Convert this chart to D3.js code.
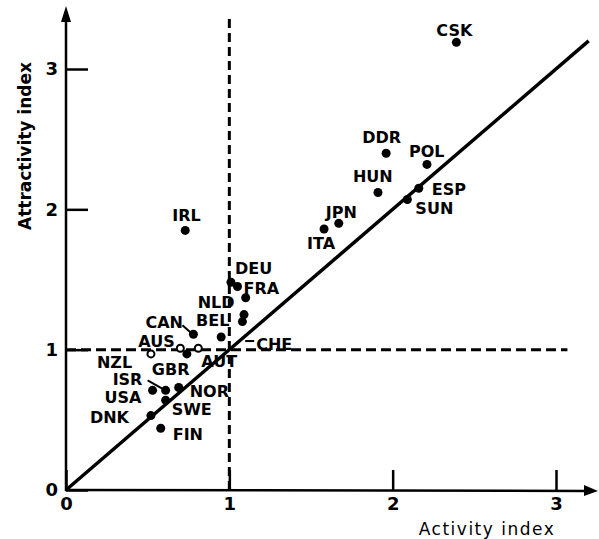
<!DOCTYPE html>
<html>
<head>
    <meta charset="utf-8">
    <title>Activity vs attractivity</title>
    <script src="https://cdn.jsdelivr.net/npm/d3@7"></script>
    <style>
        body { margin: 0; background: #fff; }
        text { font-family: "DejaVu Sans", sans-serif; fill: #000; }
    </style>
</head>
<body>
<script>
        // values
        var countries = ["CSK", "DDR", "POL", "HUN", "ESP", "SUN", "JPN", "ITA", "IRL",
            "DEU", "FRA", "NLD", "BEL", "", "CHE", "CAN", "AUS", "AUT", "GBR", "NZL",
            "ISR", "USA", "NOR", "SWE", "DNK", "FIN"];
        var activity = [2.39, 1.96, 2.21, 1.91, 2.16, 2.09, 1.67, 1.58, 0.73,
            1.01, 1.05, 1.10, 1.09, 1.08, 0.95, 0.78, 0.70, 0.81, 0.74, 0.52,
            0.61, 0.53, 0.69, 0.61, 0.52, 0.58];
        var attractivity = [3.19, 2.40, 2.32, 2.12, 2.15, 2.07, 1.90, 1.86, 1.85,
            1.48, 1.45, 1.37, 1.25, 1.20, 1.09, 1.11, 1.01, 1.01, 0.97, 0.97,
            0.71, 0.71, 0.73, 0.64, 0.53, 0.44];
        var openMarkers = ["AUS", "AUT", "NZL"];
        var xTicks = [0, 1, 2, 3];
        var yTicks = [0, 1, 2, 3];
        var threshold = 1;
        var diagonalEnd = 3.2;

        // label placement relative to each dot (dx, dy), plus leader lines
        var labelPos = {
            CSK: [-20, -6], DDR: [-24, -10], POL: [-18, -7], HUN: [-25, -10],
            ESP: [13, 7], SUN: [8, 14], JPN: [-13, -5], ITA: [-17, 20], IRL: [-13, -9],
            DEU: [4, -8], FRA: [6, 7], NLD: [-48, 10], BEL: [-48, 11], CHE: [35, 13],
            CAN: [-48, -6], AUS: [-42, -1], AUT: [3, 19], GBR: [-35, 21], NZL: [-54, 14],
            ISR: [-53, -5], USA: [-48, 13], NOR: [11, 9], SWE: [6, 15], DNK: [-61, 7],
            FIN: [12, 12]
        };
        var leaders = {
            CHE: [[24, 4], [33, 4]],
            CAN: [[-11, -9], [-3, -2]],
            ISR: [[-18, -10], [-2, -1]]
        };

        var width = 599, height = 539;
        var x = d3.scaleLinear().domain([0, 3]).range([66, 556]);
        var y = d3.scaleLinear().domain([0, 3]).range([490, 69]);

        var svg = d3.select("body").append("svg")
            .attr("width", width)
            .attr("height", height);

        // reference lines
        svg.append("line")
            .attr("x1", x(threshold)).attr("x2", x(threshold))
            .attr("y1", y(0)).attr("y2", y(3.36))
            .attr("stroke", "#000").attr("stroke-width", 3)
            .attr("stroke-dasharray", "9,5");
        svg.append("line")
            .attr("x1", x(0)).attr("x2", x(3.07))
            .attr("y1", y(threshold)).attr("y2", y(threshold))
            .attr("stroke", "#000").attr("stroke-width", 3)
            .attr("stroke-dasharray", "10,5");

        svg.append("line")
            .attr("x1", x(0)).attr("y1", y(0))
            .attr("x2", x(diagonalEnd)).attr("y2", y(diagonalEnd))
            .attr("stroke", "#000").attr("stroke-width", 3.5);

        // axes
        var yAxis = svg.append("g")
            .attr("transform", "translate(" + x(0) + ",0)")
            .call(d3.axisLeft(y).tickValues(yTicks).tickSize(-22).tickPadding(8)
                .tickFormat(d3.format("d")));
        var xAxis = svg.append("g")
            .attr("transform", "translate(0," + y(0) + ")")
            .call(d3.axisBottom(x).tickValues(xTicks).tickSize(-20).tickPadding(7)
                .tickFormat(d3.format("d")));
        [xAxis, yAxis].forEach(function (g) {
            g.select(".domain").remove();
            g.selectAll(".tick line").attr("stroke", "#000").attr("stroke-width", 2.5);
            g.selectAll(".tick text")
                .style("font-size", "18px").style("font-weight", "bold");
        });

        svg.append("line")
            .attr("x1", x(0)).attr("y1", y(0) + 1)
            .attr("x2", x(0)).attr("y2", 18)
            .attr("stroke", "#000").attr("stroke-width", 2.5);
        svg.append("path")
            .attr("d", "M" + x(0) + ",6 L" + (x(0) - 5) + ",22 L" + (x(0) + 5) + ",22 Z")
            .attr("fill", "#000");
        svg.append("line")
            .attr("x1", x(0) - 1).attr("y1", y(0))
            .attr("x2", 588).attr("y2", y(0) + 1)
            .attr("stroke", "#000").attr("stroke-width", 2.5);
        svg.append("path")
            .attr("d", "M584," + (y(0) - 5) + " L598," + (y(0) + 1) + " L584," + (y(0) + 6) + " Z")
            .attr("fill", "#000");

        svg.append("text")
            .attr("transform", "translate(31,146) rotate(-90)")
            .attr("text-anchor", "middle")
            .style("font-size", "17px").style("font-weight", "bold")
            .text("Attractivity index");
        svg.append("text")
            .attr("x", 487).attr("y", 535)
            .attr("text-anchor", "middle")
            .style("font-size", "17px").style("letter-spacing", "1.5px")
            .text("Activity index");

        // points
        var points = countries.map(function (c, i) {
            return { name: c, ax: activity[i], at: attractivity[i] };
        });

        var pt = svg.append("g").selectAll("g")
            .data(points)
            .join("g")
            .attr("transform", function (d) { return "translate(" + x(d.ax) + "," + y(d.at) + ")"; });

        pt.append("circle")
            .attr("r", function (d) { return openMarkers.indexOf(d.name) >= 0 ? 3.5 : 4.5; })
            .attr("fill", function (d) { return openMarkers.indexOf(d.name) >= 0 ? "#fff" : "#000"; })
            .attr("stroke", "#000")
            .attr("stroke-width", function (d) { return openMarkers.indexOf(d.name) >= 0 ? 2 : 0; });

        pt.filter(function (d) { return leaders[d.name]; })
            .append("line")
            .attr("x1", function (d) { return leaders[d.name][0][0]; })
            .attr("y1", function (d) { return leaders[d.name][0][1]; })
            .attr("x2", function (d) { return leaders[d.name][1][0]; })
            .attr("y2", function (d) { return leaders[d.name][1][1]; })
            .attr("stroke", "#000").attr("stroke-width", 2);

        pt.filter(function (d) { return d.name; })
            .append("text")
            .attr("x", function (d) { return labelPos[d.name][0]; })
            .attr("y", function (d) { return labelPos[d.name][1]; })
            .style("font-size", "16px").style("font-weight", "bold")
            .text(function (d) { return d.name; });
    </script>
</body>
</html>
